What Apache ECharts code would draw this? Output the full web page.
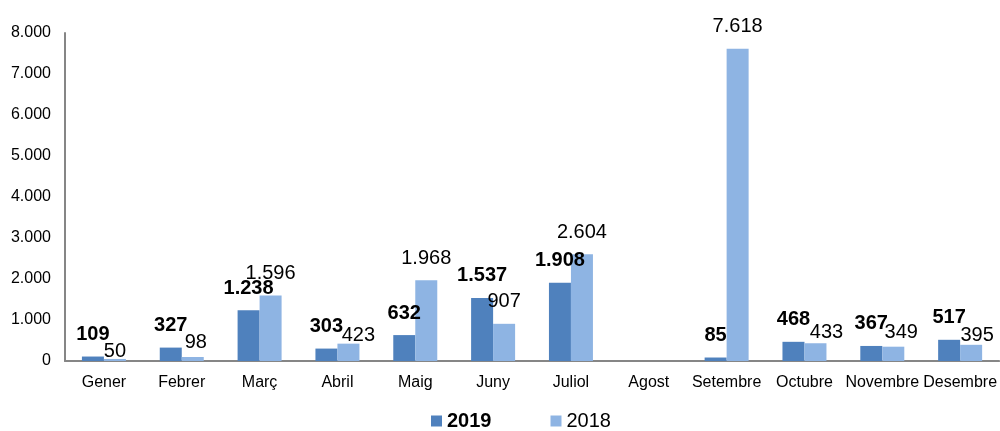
<!DOCTYPE html>
<html>
<head>
<meta charset="utf-8">
<style>
  html, body { margin: 0; padding: 0; background: #fff; }
  #chart { width: 1000px; height: 431px; }
</style>
<script src="https://cdn.jsdelivr.net/npm/echarts@6/dist/echarts.min.js"></script>
</head>
<body>
<div id="chart"></div>
<script>
// Monthly figures, 2019 compared with 2018
const months = ['Gener', 'Febrer', 'Març', 'Abril', 'Maig', 'Juny', 'Juliol', 'Agost', 'Setembre', 'Octubre', 'Novembre', 'Desembre'];
const values2019 = [109, 327, 1238, 303, 632, 1537, 1908, null, 85, 468, 367, 517];
const values2018 = [50, 98, 1596, 423, 1968, 907, 2604, null, 7618, 433, 349, 395];
const yTicks = [0, 1000, 2000, 3000, 4000, 5000, 6000, 7000, 8000];

// Label nudges [dx, dy] for the 2018 labels that would collide with neighbours
const labelNudge2018 = {
  'Gener': [0, 15],
  'Febrer': [3, 8],
  'Abril': [10, 14],
  'Octubre': [11, 11],
  'Novembre': [8, 8],
  'Desembre': [6, 13]
};

const FONT = "'Liberation Sans', Arial, sans-serif";
const fmt = v => String(v).replace(/\B(?=(\d{3})+(?!\d))/g, '.');

const chart = echarts.init(document.getElementById('chart'), null, { renderer: 'canvas' });

chart.setOption({
  animation: false,
  textStyle: { fontFamily: FONT },
  grid: { left: 65, right: 0, top: 33, bottom: 70, containLabel: false },
  legend: {
    left: 426,
    top: 406,
    itemWidth: 11,
    itemHeight: 11,
    itemGap: 59,
    icon: 'rect',
    data: ['2019', '2018'],
    formatter: name => name === '2019' ? '{b|' + name + '}' : '{n|' + name + '}',
    textStyle: {
      color: '#000',
      fontFamily: FONT,
      rich: {
        b: { fontSize: 20, fontWeight: 'bold', color: '#000', fontFamily: FONT },
        n: { fontSize: 20, color: '#000', fontFamily: FONT }
      }
    }
  },
  xAxis: {
    type: 'category',
    data: months,
    axisLine: { show: true, lineStyle: { color: '#868686', width: 2 } },
    axisTick: { show: false },
    axisLabel: { color: '#000', fontSize: 16, fontFamily: FONT, margin: 14, interval: 0 }
  },
  yAxis: {
    type: 'value',
    min: yTicks[0],
    max: yTicks[yTicks.length - 1],
    interval: yTicks[1] - yTicks[0],
    axisLine: { show: true, lineStyle: { color: '#868686', width: 2 } },
    axisTick: { show: false },
    splitLine: { show: false },
    axisLabel: { color: '#000', fontSize: 16, fontFamily: FONT, margin: 14, padding: [3, 0, 0, 0], formatter: v => fmt(v) }
  },
  series: [
    {
      name: '2019',
      type: 'bar',
      barWidth: 22,
      barGap: '0%',
      data: values2019,
      itemStyle: { color: '#4F81BD' },
      label: {
        show: true,
        position: 'top',
        distance: 12,
        color: '#000',
        fontSize: 20,
        fontWeight: 'bold',
        fontFamily: FONT,
        formatter: p => p.value == null ? '' : fmt(p.value)
      }
    },
    {
      name: '2018',
      type: 'bar',
      barWidth: 22,
      barGap: '0%',
      data: values2018.map((v, i) => {
        const n = labelNudge2018[months[i]];
        return n ? { value: v, label: { offset: n } } : v;
      }),
      itemStyle: { color: '#8EB4E3' },
      label: {
        show: true,
        position: 'top',
        distance: 12,
        color: '#000',
        fontSize: 20,
        fontFamily: FONT,
        formatter: p => p.value == null ? '' : fmt(p.value)
      }
    }
  ]
});
</script>
</body>
</html>
